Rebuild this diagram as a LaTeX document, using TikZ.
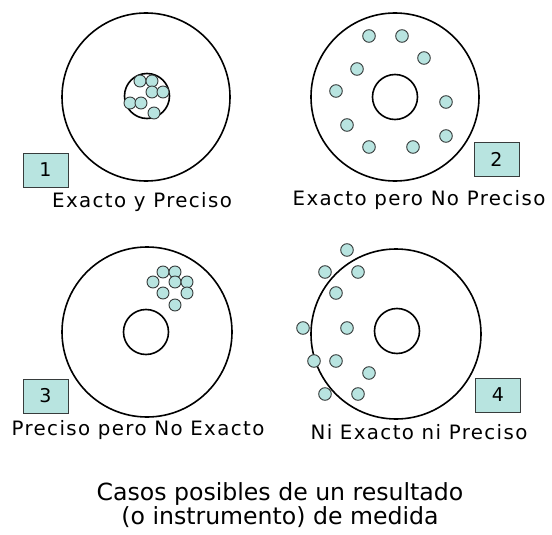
\documentclass[tikz,border=0pt]{standalone}
\usepackage{fontspec}
\setmainfont{DejaVu Sans}
\newfontfamily\lblfont[LetterSpace=7]{DejaVu Sans}
\definecolor{shotfill}{RGB}{184,228,224}
\definecolor{shotline}{RGB}{55,60,60}

\tikzset{
  target/.style={line width=1.6pt, draw=black},
  shot/.style={fill=shotfill, draw=shotline, line width=0.9pt},
  numbox/.style={draw=shotline, fill=shotfill, line width=0.8pt, minimum width=45pt,
    minimum height=34pt, inner sep=0pt, font=\lblfont\fontsize{19}{22}\selectfont},
  caption/.style={font=\lblfont\fontsize{19.8}{22}\selectfont, inner sep=0pt}
}

\begin{document}
\begin{tikzpicture}[x=1pt, y=-1pt]
  \useasboundingbox (0,0) rectangle (552,535);

  % caso 1
  \draw[target] (146,97) circle (84);
  \draw[target] (147,96) circle (22.5);
  \foreach \x/\y in {140/81, 152/81, 152/92, 163/92, 130/103, 141/103, 154/113}
    \draw[shot] (\x,\y) circle (6);
  \node[numbox] (n1) at (45.5,170) {1};
  \node[caption] (t1) at (142,202) {Exacto y Preciso};

  % caso 2
  \draw[target] (395,97) circle (84);
  \draw[target] (395,97) circle (22.5);
  \foreach \x/\y in {369/36, 402/36, 424/58, 357/69, 336/91, 446/102, 347/125, 446/136, 369/147, 413/147}
    \draw[shot] (\x,\y) circle (6.3);
  \node[numbox] (n2) at (496.5,159.5) {2};
  \node[caption] (t2) at (419,200) {Exacto pero No Preciso};

  % caso 3
  \draw[target] (147,332) circle (85);
  \draw[target] (146,332) circle (22.5);
  \foreach \x/\y in {163/272, 175/272, 153/282, 175/282, 187/282, 163/293, 187/293, 175/305}
    \draw[shot] (\x,\y) circle (6);
  \node[numbox] (n3) at (45.5,396) {3};
  \node[caption] (t3) at (138,430) {Preciso pero No Exacto};

  % caso 4
  \draw[target] (396,334) circle (85);
  \draw[target] (397,331) circle (22.5);
  \foreach \x/\y in {347/250, 325/272, 358/272, 336/293, 303/328, 347/328, 314/361, 336/361, 369/373, 325/394, 358/394}
    \draw[shot] (\x,\y) circle (6.3);
  \node[numbox] (n4) at (498,395) {4};
  \node[caption] (t4) at (419,432) {Ni Exacto ni Preciso};

  % titulo
  \node[font=\fontsize{23.6}{21}\selectfont, align=center, inner sep=0pt] (titulo) at (280,505)
    {Casos posibles de un resultado\\(o instrumento) de medida};
\end{tikzpicture}
\end{document}
